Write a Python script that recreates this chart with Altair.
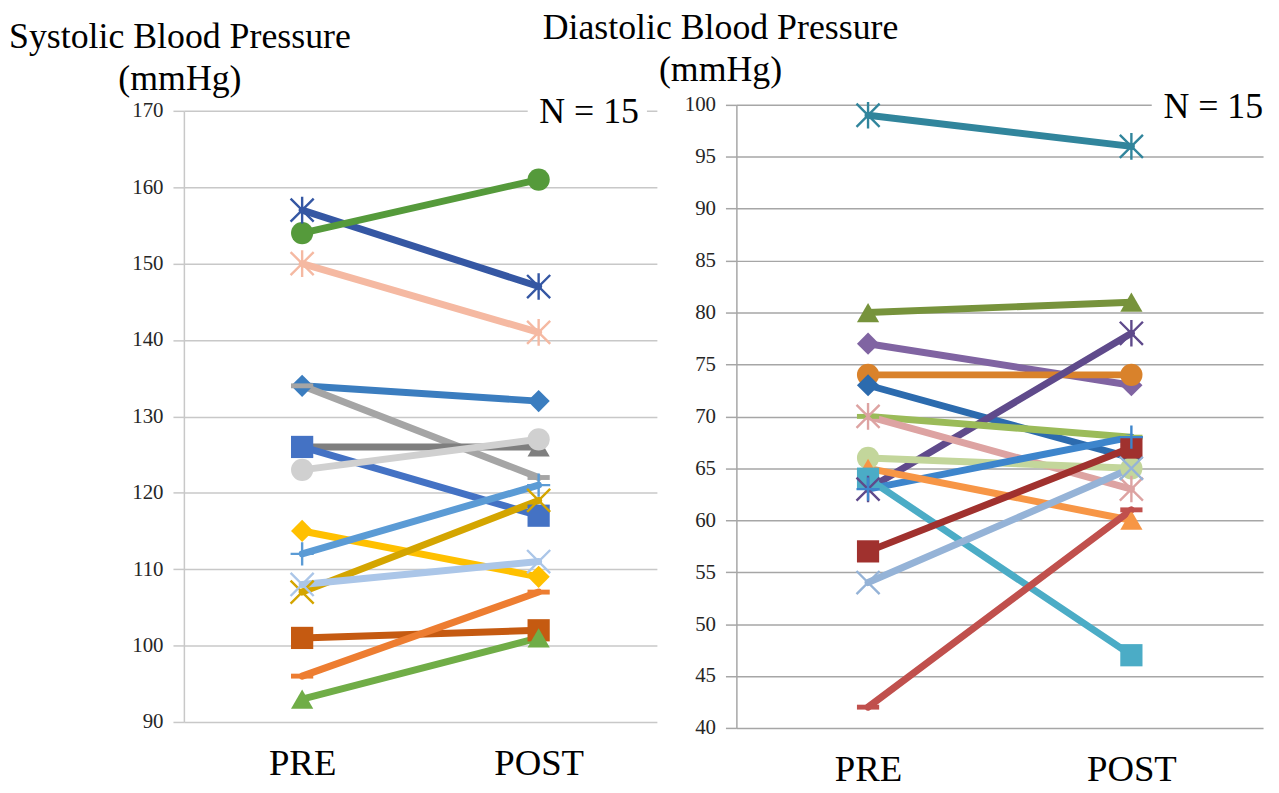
import altair as alt
import pandas as pd

phases = ["PRE", "POST"]

# ---------------- Systolic ----------------
sys_ids = ["S%02d" % i for i in range(1, 16)]
sys_pre = [157, 154, 150, 134, 134, 126, 126, 123, 115, 112, 107, 108, 101, 96, 93]
sys_post = [147, 161, 141, 132, 122, 126, 117, 127, 109, 121, 119, 111, 102, 107, 101]
sys_colors = ["#3557A3", "#559A3B", "#F5B9A2", "#3B7DBF", "#A5A5A5", "#7F7F7F", "#4472C4",
              "#D0D0D0", "#FFC000", "#5B9BD5", "#D4A500", "#ABC6E8", "#C55A11", "#ED7D31", "#70AD47"]
sys_markers = ["star", "circle", "star", "diamond", "dash", "triangle", "square", "circle",
               "diamond", "plus", "x", "x", "square", "dash", "triangle"]
sys_ticks = [90, 100, 110, 120, 130, 140, 150, 160, 170]

# ---------------- Diastolic ----------------
dia_ids = ["D%02d" % i for i in range(1, 16)]
dia_pre = [99, 80, 77, 74, 73, 63, 70, 70, 66, 63, 65, 64, 57, 54, 42]
dia_post = [96, 81, 73, 74, 66, 78, 68, 63, 65, 68, 60, 47, 67, 65, 61]
dia_colors = ["#31859C", "#77933C", "#8064A2", "#D9822B", "#2C6BAE", "#5F4A8B", "#9BBB59",
              "#DDA3A2", "#C3D69B", "#3D85CC", "#F79646", "#4BACC6", "#A0312E", "#95B3D7", "#C0504D"]
dia_markers = ["star", "triangle", "diamond", "circle", "diamond", "star", "dash", "star",
               "circle", "plus", "triangle", "square", "square", "x", "dash"]
dia_ticks = [40, 45, 50, 55, 60, 65, 70, 75, 80, 85, 90, 95, 100]

SHAPES = {
    "circle": "circle",
    "square": "square",
    "diamond": "diamond",
    "triangle": "triangle-up",
    "dash": "M-1,-0.22H1V0.22H-1Z",
    "star": "M-1,-1L1,1M-1,1L1,-1M0,-1.15L0,1.15",
    "x": "M-1,-1L1,1M-1,1L1,-1",
    "plus": "M-1,0H1M0,-1V1",
}
FILLED = {"circle", "square", "diamond", "triangle", "dash"}

SERIF = "Liberation Serif"


def panel(ids, pre, post, colors, markers, ticks, w, h, title_lines, title_dx, title_offset,
          grid_color, n_right, n_base):
    rows = []
    for i, sid in enumerate(ids):
        kind = "fill" if markers[i] in FILLED else "stroke"
        rows.append({"id": sid, "phase": phases[0], "value": pre[i], "kind": kind})
        rows.append({"id": sid, "phase": phases[1], "value": post[i], "kind": kind})
    df = pd.DataFrame(rows)

    x = alt.X("phase:N", sort=phases,
              scale=alt.Scale(type="point", padding=0.5),
              axis=alt.Axis(title=None, labelAngle=0, domain=False, ticks=False, grid=False,
                            labelFont=SERIF, labelFontSize=37, labelColor="#000000",
                            labelPadding=24))
    y = alt.Y("value:Q",
              scale=alt.Scale(domain=[ticks[0], ticks[-1]], nice=False, zero=False),
              axis=alt.Axis(title=None, values=ticks, grid=True, gridColor=grid_color,
                            gridWidth=1.5, domainColor=grid_color, domainWidth=1.5,
                            tickColor=grid_color, tickSize=11, tickWidth=1.5,
                            labelFont=SERIF, labelFontSize=21, labelColor="#262626",
                            labelPadding=10))
    color = alt.Color("id:N", scale=alt.Scale(domain=ids, range=colors), legend=None)
    shape = alt.Shape("id:N", scale=alt.Scale(domain=ids, range=[SHAPES[m] for m in markers]),
                      legend=None)

    base = alt.Chart(df)
    lines = base.mark_line(strokeWidth=7, strokeCap="round").encode(
        x=x, y=y, color=color, detail="id:N")
    filled = base.transform_filter(alt.datum.kind == "fill").mark_point(
        filled=True, opacity=1, size=500).encode(x=x, y=y, color=color, shape=shape)
    stroked = base.transform_filter(alt.datum.kind == "stroke").mark_point(
        filled=False, opacity=1, size=540, strokeWidth=2.4).encode(x=x, y=y, color=color, shape=shape)

    note = alt.Chart(alt.Data(values=[{"t": "N = 15"}]))
    bg = note.mark_rect(color="white").encode(
        x=alt.value(n_right - 112), x2=alt.value(n_right + 8),
        y=alt.value(-20), y2=alt.value(20))
    txt = note.mark_text(font=SERIF, fontSize=36, align="right", baseline="alphabetic",
                         color="#000000").encode(
        x=alt.value(n_right), y=alt.value(n_base), text="t:N")

    return alt.layer(lines, filled, stroked, bg, txt).properties(
        width=w, height=h,
        title=alt.TitleParams(text=title_lines, anchor="start", frame="group", align="center",
                              dx=title_dx, offset=title_offset, font=SERIF, fontSize=36,
                              fontWeight="normal", lineHeight=42, color="#000000"))


left = panel(sys_ids, sys_pre, sys_post, sys_colors, sys_markers, sys_ticks,
             476, 615, ["Systolic Blood Pressure", "(mmHg)"], -4, -7, "#C8C8C8", 458, 12)
right = panel(dia_ids, dia_pre, dia_post, dia_colors, dia_markers, dia_ticks,
              530, 627, ["Diastolic Blood Pressure", "(mmHg)"], -16, -4, "#A6A6A6", 530, 13)

chart = alt.hconcat(left, right, spacing=80, bounds="flush", center=True).resolve_scale(
    color="independent", shape="independent").configure_view(
    stroke=None).properties(padding=0, background="white")

chart.save("out.html", embed_options={"renderer": "svg", "actions": False})
